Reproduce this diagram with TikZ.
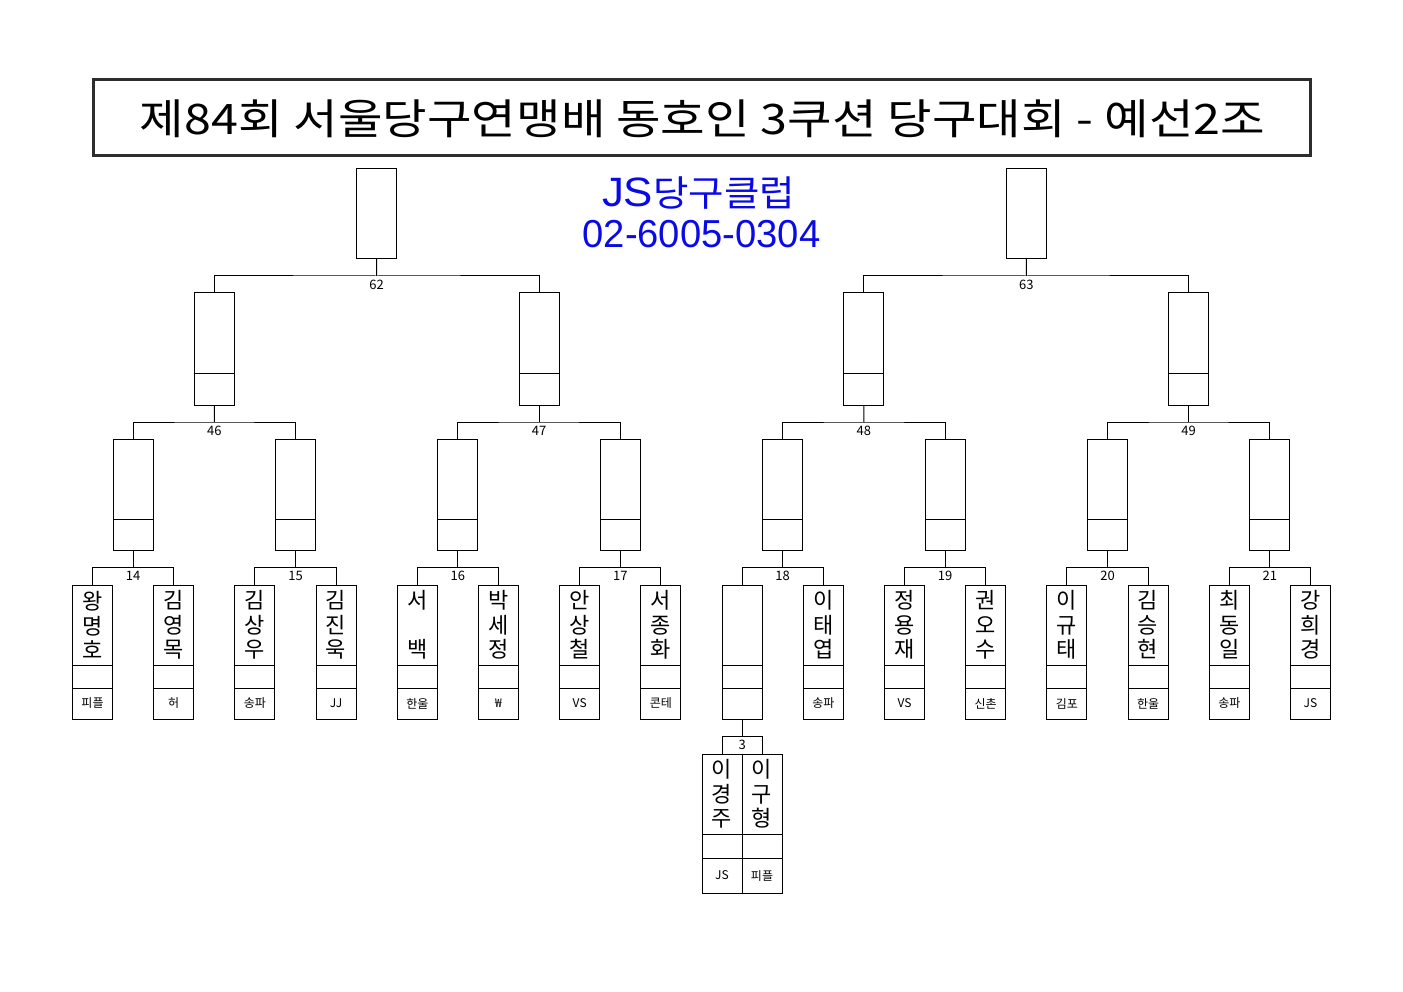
\documentclass[tikz,border=0pt]{standalone}
\usepackage{graphicx}
\usepackage{fontspec}
\setmainfont{Noto Sans CJK KR}
\newfontfamily\arialf{Liberation Sans}
\usetikzlibrary{calc}
\definecolor{tblue}{RGB}{10,10,230}
\definecolor{tborder}{RGB}{45,45,45}
\tikzset{
  bx/.style={draw, line width=1pt, rectangle, inner sep=0pt, outer sep=0pt,
             minimum width=40pt, anchor=north west},
  pbox/.style={bx, minimum height=134pt},
  qbox/.style={bx, minimum height=111pt},
  rbox/.style={bx, minimum height=112pt},
  sbox/.style={bx, minimum height=90pt},
  bbox/.style={bx, minimum height=139pt},
  lnk/.style={line width=1pt},
  num/.style={font=\fontsize{13}{13}\selectfont, inner sep=0pt},
  pname/.style={font=\fontsize{22}{24.5}\selectfont, align=center, inner sep=0pt},
  club/.style={font=\fontsize{12}{12}\selectfont, inner sep=0pt},
  titlebox/.style={draw=tborder, line width=3pt, rectangle, inner sep=0pt,
                   minimum width=1216.7pt, minimum height=76.8pt},
  sub/.style={text=tblue, inner sep=0pt},
}
\begin{document}
\begin{tikzpicture}[x=1pt,y=-1pt]
\useasboundingbox (0,0) rectangle (1403,992);

% title
\node[titlebox] (T) at (701.7,117.6) {};
\node[inner sep=0pt] (TT) at (702.5,118.5)
  {\resizebox{1125pt}{\height}{\fontsize{42}{42}\selectfont 제84회 서울당구연맹배 동호인 3쿠션 당구대회 - 예선2조}};

% subtitle
\node[sub] (S1) at (698.5,193)
  {\resizebox{193pt}{\height}{{\arialf\fontsize{41}{41}\selectfont JS}{\fontsize{36}{36}\selectfont 당구클럽}}};
\node[sub] (S2) at (701.5,234)
  {\resizebox{238pt}{\height}{\arialf\fontsize{39}{39}\selectfont 02-6005-0304}};

% player boxes
\foreach \i/\nm/\cl in {0/{왕\\명\\호}/피플, 1/{김\\영\\목}/허, 2/{김\\상\\우}/송파,
  3/{김\\진\\욱}/JJ, 4/{서\\\mbox{}\\백}/한울, 5/{박\\세\\정}/₩, 6/{안\\상\\철}/VS,
  7/{서\\종\\화}/콘테, 8/{}/{}, 9/{이\\태\\엽}/송파, 10/{정\\용\\재}/VS,
  11/{권\\오\\수}/신촌, 12/{이\\규\\태}/김포, 13/{김\\승\\현}/한울,
  14/{최\\동\\일}/송파, 15/{강\\희\\경}/JS}{
  \node[pbox] (P\i) at ({72.5+81.2*\i},585) {};
  \draw[lnk] ([yshift=-80pt]P\i.north west) -- ([yshift=-80pt]P\i.north east)
             ([yshift=-103pt]P\i.north west) -- ([yshift=-103pt]P\i.north east);
  \node[pname] (N\i) at ([yshift=-40pt]P\i.north) {\nm};
  \node[club] (C\i) at ([yshift=-118.5pt]P\i.north) {\cl};
}

% bottom pair (match 3)
\node[bbox] (B0) at (702,754) {};
\node[bbox] (B1) at (742,754) {};
\foreach \b/\nm/\cl in {0/{이\\경\\주}/JS, 1/{이\\구\\형}/피플}{
  \draw[lnk] ([yshift=-80pt]B\b.north west) -- ([yshift=-80pt]B\b.north east)
             ([yshift=-104pt]B\b.north west) -- ([yshift=-104pt]B\b.north east);
  \node[pname] (BN\b) at ([yshift=-40pt]B\b.north) {\nm};
  \node[club] (BC\b) at ([yshift=-121.5pt]B\b.north) {\cl};
}
\coordinate (m3) at ($(P8.south)!.5!(P8.south |- B0.north)$);
\draw[lnk] (P8.south) -- (m3);
\draw[lnk] (B0.north) |- (m3) -| (B1.north);
\node[num] (L3) at ([yshift=-8.5pt]m3) {3};

% level 3 (matches 14-21)
\foreach \j in {0,...,7}{
  \pgfmathsetmacro\cx{133.1+162.4*\j-20}
  \pgfmathtruncatemacro\a{2*\j}
  \pgfmathtruncatemacro\b{2*\j+1}
  \pgfmathtruncatemacro\n{14+\j}
  \node[qbox] (Q\j) at (\cx,439) {};
  \draw[lnk] ([yshift=-80pt]Q\j.north west) -- ([yshift=-80pt]Q\j.north east);
  \coordinate (mq\j) at ($(Q\j.south)!.5!(Q\j.south |- P\a.north)$);
  \draw[lnk] (Q\j.south) -- (mq\j);
  \draw[lnk] (P\a.north) |- (mq\j) -| (P\b.north);
  \node[num] (LQ\j) at ([yshift=-8.5pt]mq\j) {\n};
}

% level 2 (matches 46-49)
\foreach \k in {0,...,3}{
  \pgfmathsetmacro\cx{214.3+324.8*\k-20}
  \pgfmathtruncatemacro\a{2*\k}
  \pgfmathtruncatemacro\b{2*\k+1}
  \pgfmathtruncatemacro\n{46+\k}
  \node[rbox] (R\k) at (\cx,293) {};
  \draw[lnk] ([yshift=-80pt]R\k.north west) -- ([yshift=-80pt]R\k.north east);
  \coordinate (mr\k) at ($(R\k.south)!.5!(R\k.south |- Q\a.north)$);
  \draw[lnk] (R\k.south) -- (mr\k);
  \draw[lnk] (Q\a.north) |- (mr\k) -| (Q\b.north);
  \node[num] (LR\k) at ([yshift=-8.5pt]mr\k) {\n};
}

% level 1 (matches 62-63)
\foreach \m in {0,1}{
  \pgfmathsetmacro\cx{376.7+649.6*\m-20}
  \pgfmathtruncatemacro\a{2*\m}
  \pgfmathtruncatemacro\b{2*\m+1}
  \pgfmathtruncatemacro\n{62+\m}
  \node[sbox] (S\m) at (\cx,169) {};
  \coordinate (ms\m) at ($(S\m.south)!.5!(S\m.south |- R\a.north)$);
  \draw[lnk] (S\m.south) -- (ms\m);
  \draw[lnk] (R\a.north) |- (ms\m) -| (R\b.north);
  \node[num] (LS\m) at ([yshift=-8.5pt]ms\m) {\n};
}
\end{tikzpicture}
\end{document}
